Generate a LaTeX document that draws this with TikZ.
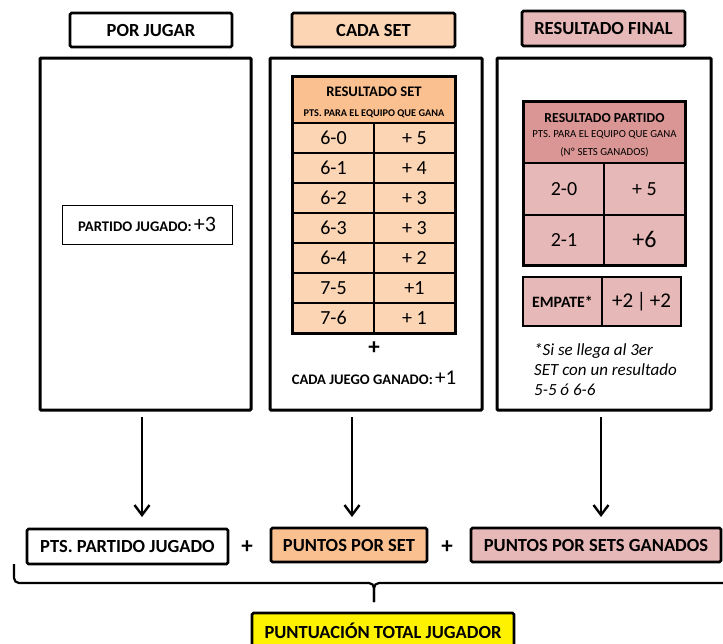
\documentclass[tikz,border=0pt]{standalone}
\usepackage{fontspec}
\setmainfont{Carlito}
\usetikzlibrary{arrows.meta}
\definecolor{peach}{HTML}{FCD5B4}
\definecolor{peachdark}{HTML}{FAC090}
\definecolor{rose}{HTML}{E6B8B7}
\definecolor{rosedark}{HTML}{DA9694}

\begin{document}
\begin{tikzpicture}[x=1pt,y=-1pt,
    titlebox/.style={draw,line width=2.6pt,rounded corners=1.5pt,inner sep=0pt,font=\fontsize{18.5}{20}\selectfont\bfseries},
    panel/.style={draw,line width=3pt,rounded corners=1pt,inner sep=0pt},
    cell/.style={draw,line width=1.4pt,inner sep=0pt,font=\fontsize{20}{22}\selectfont},
    plus/.style={font=\fontsize{23}{25}\selectfont\bfseries},
    down/.style={-{Straight Barb[length=10pt,width=15pt,line width=2.4pt]},line width=2.5pt},
  ]
  \useasboundingbox (0,0) rectangle (723,643);
  % cabeceras
  \node[titlebox,minimum width=162pt,minimum height=34pt] (porjugar) at (151,30) {POR JUGAR};
  \node[titlebox,fill=peach,minimum width=163pt,minimum height=34pt] (cadaset) at (373.5,30) {CADA SET};
  \node[titlebox,fill=rose,minimum width=163pt,minimum height=35pt] (resfinal) at (603.5,28.5) {RESULTADO FINAL};
  % paneles
  \node[panel,minimum width=211pt,minimum height=352pt] (pjugar) at (145.5,234) {};
  \node[panel,minimum width=212pt,minimum height=352pt] (pset) at (376,234) {};
  \node[panel,minimum width=214pt,minimum height=352pt] (pfinal) at (604,234) {};
  % por jugar
  \node[draw,line width=0.8pt,inner sep=0pt,minimum width=170pt,minimum height=39pt] (jugado) at (147,224.5)
    {{\fontsize{14.7}{16}\selectfont\bfseries PARTIDO JUGADO:} {\fontsize{22}{24}\selectfont +3}};
  % cada set
  \node[cell,fill=peachdark,minimum width=162pt,minimum height=46pt] (hdrset) at (374,100) {};
  \node[font=\fontsize{14.6}{16}\selectfont\bfseries] (hdrsetA) at (374,92) {RESULTADO SET};
  \node[font=\fontsize{10.3}{12}\selectfont\bfseries] (hdrsetB) at (374,114) {PTS. PARA EL EQUIPO QUE GANA};
  \foreach \res/\pts [count=\i] in {6-0/+ 5,6-1/+ 4,6-2/+ 3,6-3/+ 3,6-4/+ 2,7-5/+1,7-6/+ 1} {
    \node[cell,fill=peach,minimum width=81pt,minimum height=30pt] (res\i) at (333.5,108+30*\i) {\res};
    \node[cell,fill=peach,minimum width=81pt,minimum height=30pt] (pts\i) at (414.5,108+30*\i) {\pts};
  }
  \draw[line width=2pt] (hdrset.north west) rectangle (pts7.south east);
  \node[plus] (masset) at (374,348) {+};
  \node (juego) at (374,378) {{\fontsize{14.6}{16}\selectfont\bfseries CADA JUEGO GANADO:} {\fontsize{21}{23}\selectfont +1}};
  % resultado final
  \node[cell,fill=rosedark,minimum width=161pt,minimum height=61pt] (hdrfin) at (604.5,132.5) {};
  \node[font=\fontsize{13.7}{15}\selectfont\bfseries] (hdrfinA) at (604.5,118) {RESULTADO PARTIDO};
  \node[font=\fontsize{10.8}{12}\selectfont] (hdrfinB) at (604.5,135) {PTS. PARA EL EQUIPO QUE GANA};
  \node[font=\fontsize{10.8}{12}\selectfont] (hdrfinC) at (604.5,152) {(Nº SETS GANADOS)};
  \node[cell,fill=rose,minimum width=80pt,minimum height=52pt] (sa) at (564,189) {2-0};
  \node[cell,fill=rose,minimum width=81pt,minimum height=52pt] (sb) at (644.5,189) {+ 5};
  \node[cell,fill=rose,minimum width=80pt,minimum height=50pt] (sc) at (564,240) {\raisebox{-2pt}{2-1}};
  \node[cell,fill=rose,minimum width=81pt,minimum height=50pt] (sd) at (644.5,240) {\fontsize{24}{26}\selectfont\raisebox{2pt}{+6}};
  \draw[line width=2pt] (hdrfin.north west) rectangle (sd.south east);
  \node[cell,line width=2pt,fill=rose,minimum width=79pt,minimum height=49pt,font=\fontsize{15.8}{17}\selectfont\bfseries] (empate) at (562.5,301.5) {EMPATE*};
  \node[cell,line width=2pt,fill=rose,minimum width=79pt,minimum height=49pt,font=\fontsize{21}{23}\selectfont] (empatepts) at (641.5,301.5) {+2\,|\,+2};
  \node[anchor=west,align=left,inner sep=0pt,font=\fontsize{17}{20}\selectfont\itshape] (nota) at (534,370)
    {*Si se llega al 3er\\SET con un resultado\\5-5 ó 6-6};
  % flechas
  \coordinate (fa) at (142,417);
  \coordinate (fb) at (142,517);
  \coordinate (fc) at (352,417);
  \coordinate (fd) at (352,517);
  \coordinate (fe) at (601,417);
  \coordinate (ff) at (601,517);
  \draw[down] (fa) -- (fb);
  \draw[down] (fc) -- (fd);
  \draw[down] (fe) -- (ff);
  % suma
  \node[titlebox,minimum width=201pt,minimum height=35pt] (ptsjug) at (127.5,546.5) {PTS. PARTIDO JUGADO};
  \node[plus] (plusA) at (247,547) {+};
  \node[titlebox,fill=peachdark,minimum width=156pt,minimum height=34pt] (ptsset) at (349,545) {PUNTOS POR SET};
  \node[plus] (plusB) at (447,547) {+};
  \node[titlebox,fill=rose,minimum width=250pt,minimum height=34pt] (ptsgan) at (596,545) {PUNTOS POR SETS GANADOS};
  \draw[line width=2.2pt,rounded corners=5pt] (14,564) -- (14,583) -- (374,583) -- (374,602);
  \draw[line width=2.2pt,rounded corners=5pt] (726,583) -- (374,583) -- (374,602);
  \node[titlebox,fill=yellow,minimum width=262pt,minimum height=36pt] (total) at (383,631) {PUNTUACIÓN TOTAL JUGADOR};
\end{tikzpicture}
\end{document}
